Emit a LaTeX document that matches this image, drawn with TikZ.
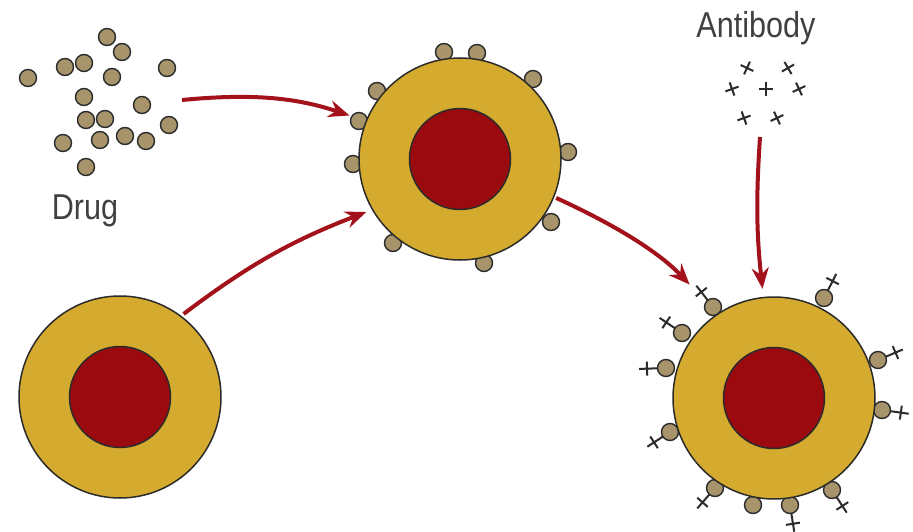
\documentclass[tikz,border=0pt]{standalone}
\usepackage{fontspec}
\setmainfont{Liberation Sans}[FakeStretch=0.85]
\usetikzlibrary{arrows.meta,calc}
\definecolor{gold}{HTML}{D4AA2F}
\definecolor{blood}{HTML}{9A0A0E}
\definecolor{tan}{HTML}{A8946A}
\definecolor{ink}{HTML}{2B2B2B}
\definecolor{arrowred}{HTML}{A3121A}

\begin{document}
\begin{tikzpicture}[x=1pt, y=-1pt,
  cell/.style={circle, draw=ink, line width=1.5pt, fill=gold,
               minimum size=202pt, inner sep=0pt},
  nucleus/.style={circle, draw=ink, line width=1.5pt, fill=blood,
                  minimum size=101pt, inner sep=0pt},
  drug/.style={circle, draw=ink, line width=1.4pt, fill=tan,
               minimum size=17pt, inner sep=0pt},
  ab/.style={draw=ink, line width=2pt},
  a/.style={-{Stealth[length=21pt, width=17pt, inset=7pt]},
            line width=4pt, draw=arrowred},
  lbl/.style={font=\fontsize{36}{40}\selectfont, text=ink!90, inner sep=0pt}]

\useasboundingbox (0,0) rectangle (913,532);

% free drug particles
\foreach \x/\y [count=\i] in {28/78, 65/67, 84/63, 107/37, 122/52, 167/68,
    112/77, 84/97, 142/105, 86/120, 105/119, 169/125, 63/143, 100/140,
    125/136, 146/141, 86/167}
  \node[drug] (d\i) at (\x,\y) {};
\node[lbl, anchor=base] (druglbl) at (85,219) {Drug};

% free antibodies
\foreach \x/\y/\r in {747/68/-25, 788/68/30, 732/89/20, 766/89/0,
    799/89/25, 744/118/20, 777/118/25}
  \draw[ab, shift={(\x,\y)}, rotate=\r] (-7,0) -- (7,0) (0,-7) -- (0,7);
\node[lbl, anchor=base] (ablbl) at (756,38) {Antibody};

% untreated cell
\node[cell] (cellA) at (120,397) {};
\node[nucleus] (nucA) at (cellA) {};

% cell with bound drug
\foreach \x/\y [count=\i] in {444/52, 477/53, 533/79, 377/91, 359/121,
    568/152, 353/164, 551/222, 393/243, 484/263}
  \node[drug] (p\i) at (\x,\y) {};
\node[cell] (cellB) at (460,159) {};
\node[nucleus] (nucB) at (cellB) {};

% cell with drug and antibody bound
\foreach \x/\y/\a [count=\i] in {713/307/128, 824/298/63, 682/333/146,
    666/368/182, 878/360/23, 882/410/-8, 670/432/213, 715/488/229,
    790/505/279, 832/490/303} {
  \draw[ab, shift={(\x,\y)}, rotate=\a] (8,0) -- (27,0) (19,-7) -- (19,7);
  \node[drug] (q\i) at (\x,\y) {};
}
\node[drug] (q11) at (753,505) {};
\node[cell] (cellC) at (774,398) {};
\node[nucleus] (nucC) at (cellC) {};

% arrows
\coordinate (drugout) at (182,100);
\coordinate (about) at (760,137);
\draw[a] (drugout) to[bend left=12] (cellB.158) [shorten >=17pt];
\draw[a, shorten <=3pt, shorten >=6pt] (cellA.53) to[bend left=8] (cellB.210);
\draw[a, shorten <=2pt, shorten >=40pt] (cellB.338) to[bend left=11] (cellC.124);
\draw[a, shorten >=8pt] (about) to[bend right=5] (cellC.96);
\end{tikzpicture}
\end{document}
